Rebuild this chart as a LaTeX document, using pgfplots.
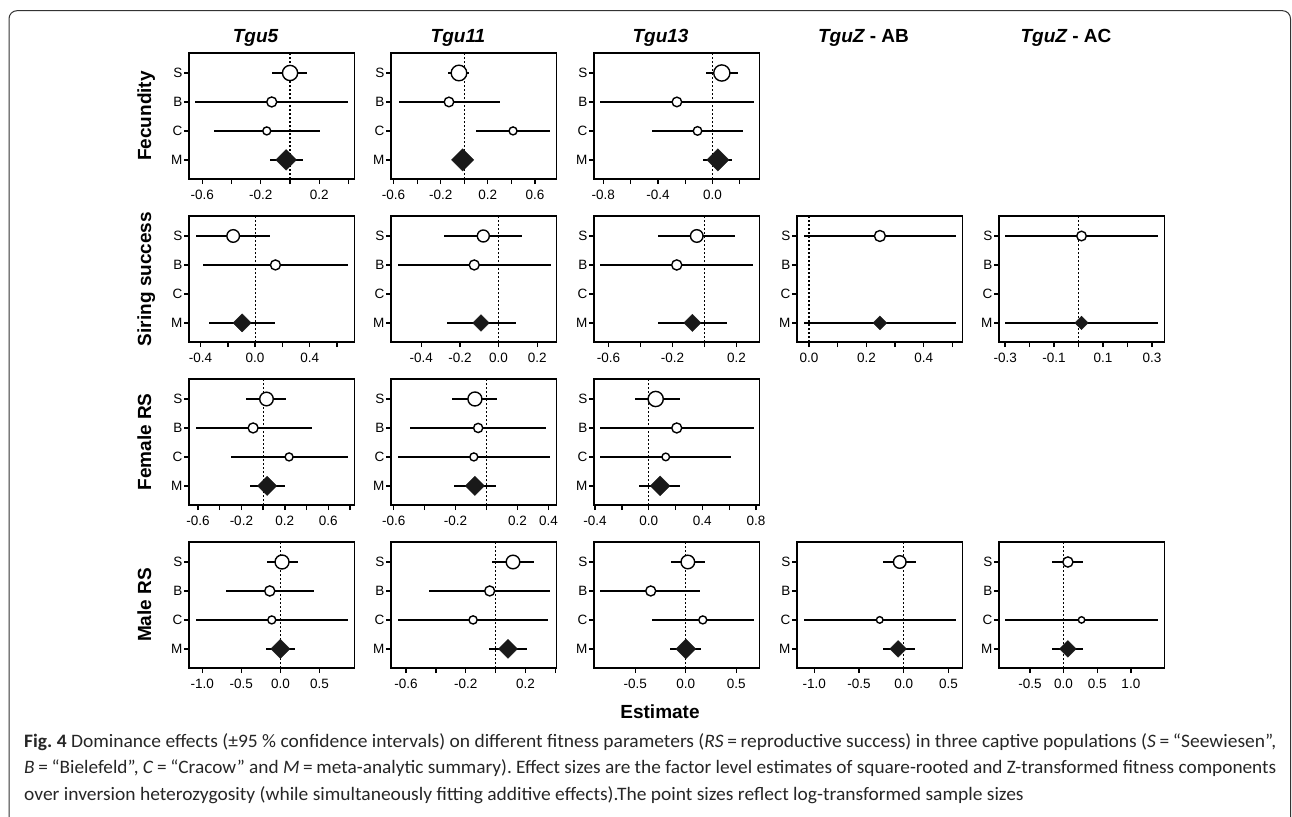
\documentclass[border=0pt]{standalone}
\usepackage{fontspec}
\setmainfont{Liberation Sans}
\newfontfamily\capfont[FakeStretch=0.88]{Carlito}
\usepackage{graphicx}
\usepackage{pgfplots}
\pgfplotsset{compat=1.18}
\usepackage{pgfplotstable}

% ---- data: y (4=S,3=B,2=C,1=M), estimate, lower CI, upper CI, marker radius (pt)
\pgfplotstableread{
y x lo hi r
4 0.000 -0.125 0.118 7.6
3 -0.125 -0.648 0.393 5.0
2 -0.159 -0.518 0.202 4.0
1 -0.027 -0.136 0.086 7.3
}\fecA
\pgfplotstableread{
y x lo hi r
4 -0.045 -0.140 0.040 7.8
3 -0.130 -0.558 0.300 4.8
2 0.414 0.099 0.730 4.0
1 -0.014 -0.080 0.050 7.9
}\fecB
\pgfplotstableread{
y x lo hi r
4 0.068 -0.046 0.190 8.1
3 -0.261 -0.822 0.300 4.8
2 -0.110 -0.444 0.222 4.3
1 0.039 -0.071 0.146 7.9
}\fecC
\pgfplotstableread{
y x lo hi r
4 -0.161 -0.437 0.112 6.3
3 0.149 -0.385 0.680 5.0
1 -0.095 -0.339 0.146 6.4
}\sirA
\pgfplotstableread{
y x lo hi r
4 -0.079 -0.283 0.121 6.0
3 -0.126 -0.522 0.269 5.0
1 -0.091 -0.269 0.088 5.9
}\sirB
\pgfplotstableread{
y x lo hi r
4 -0.048 -0.288 0.192 6.3
3 -0.173 -0.652 0.306 5.1
1 -0.075 -0.288 0.140 6.1
}\sirC
\pgfplotstableread{
y x lo hi r
4 0.247 -0.019 0.513 5.5
1 0.247 -0.019 0.513 4.9
}\sirD
\pgfplotstableread{
y x lo hi r
4 0.012 -0.299 0.325 4.8
1 0.012 -0.299 0.325 4.7
}\sirE
\pgfplotstableread{
y x lo hi r
4 0.031 -0.156 0.214 6.8
3 -0.092 -0.621 0.450 5.0
2 0.239 -0.300 0.777 4.0
1 0.037 -0.125 0.205 6.8
}\femA
\pgfplotstableread{
y x lo hi r
4 -0.075 -0.222 0.069 7.0
3 -0.054 -0.495 0.387 4.6
2 -0.082 -0.574 0.413 4.0
1 -0.075 -0.209 0.058 6.8
}\femB
\pgfplotstableread{
y x lo hi r
4 0.052 -0.102 0.234 7.6
3 0.209 -0.363 0.782 5.0
2 0.127 -0.363 0.615 3.8
1 0.085 -0.070 0.234 7.0
}\femC
\pgfplotstableread{
y x lo hi r
4 0.021 -0.170 0.221 7.0
3 -0.136 -0.702 0.426 5.1
2 -0.110 -1.085 0.864 4.0
1 0.000 -0.179 0.183 6.8
}\malA
\pgfplotstableread{
y x lo hi r
4 0.116 -0.022 0.256 6.8
3 -0.040 -0.444 0.364 5.0
2 -0.151 -0.656 0.349 4.1
1 0.082 -0.044 0.209 6.7
}\malB
\pgfplotstableread{
y x lo hi r
4 0.020 -0.149 0.191 6.8
3 -0.347 -0.848 0.145 5.0
2 0.168 -0.330 0.670 4.0
1 0.000 -0.155 0.152 7.0
}\malC
\pgfplotstableread{
y x lo hi r
4 -0.045 -0.235 0.142 6.3
2 -0.269 -1.119 0.586 3.3
1 -0.063 -0.235 0.130 5.9
}\malD
\pgfplotstableread{
y x lo hi r
4 0.064 -0.168 0.287 5.1
2 0.267 -0.866 1.406 3.2
1 0.064 -0.168 0.287 5.9
}\malE

\newcommand\tickfont{\fontsize{13.5}{14}\selectfont}
\newcommand\bigfont{\fontsize{19}{19}\selectfont\bfseries}
\newcommand\capsize{\fontsize{19}{19}\selectfont}

\pgfplotsset{
  forest/.style={
    scale only axis, width=165.5pt, height=126pt, anchor=north west,
    ymin=0.34, ymax=4.69, ytick={1,2,3,4}, yticklabels={M,C,B,S},
    axis line style={line width=1.8pt, black},
    tick style={line width=1.3pt, black},
    tick align=outside, major tick length=5pt,
    xtick pos=left, ytick pos=left,
    xticklabel style={font=\tickfont, anchor=base, yshift=-15pt},
    yticklabel style={font=\tickfont, anchor=east, inner sep=1.5pt},
  },
  dotmarks/.style n args={2}{scatter, only marks,
    point meta=y, point meta min=0, point meta max=5,
    scatter/use mapped color={draw=#1, fill=#2},
    visualization depends on={\thisrow{r} \as \rad},
    scatter/@pre marker code/.append style={/tikz/mark size=\rad}},
}

\newcommand\panel[7]{%
\begin{axis}[forest, at={(#1pt,-#2pt)}, xmin=#3, xmax=#4, xtick={#5}, xticklabels={#6}]
  \addplot[line width=1.2pt, dash pattern=on 1.6pt off 2.4pt, black] coordinates {(0,0.34) (0,4.69)};
  \addplot[draw=none, mark=none,
    error bars/.cd, x dir=both, x explicit, error mark=none,
    error bar style={line width=1.4pt, draw=black, solid}]
    table[x=x, y=y, x error plus expr=\thisrow{hi}-\thisrow{x}, x error minus expr=\thisrow{x}-\thisrow{lo}] {#7};
  \addplot[mark=*, mark options={line width=1.4pt},
    dotmarks={black}{white},
    restrict y to domain=1.5:5] table[x=x, y=y] {#7};
  \addplot[mark=square*, mark options={rotate=45, line width=0.4pt},
    dotmarks={black!90}{black!90},
    restrict y to domain=0:1.5] table[x=x, y=y] {#7};
\end{axis}}

\newcommand\capA{\textbf{Fig.~4} Dominance effects (±95~\% confidence intervals) on different fitness parameters (\textit{RS}\,=\,reproductive success) in three captive populations (\textit{S}\,=\,“Seewiesen”,}
\newcommand\capB{\textit{B}\,=\,“Bielefeld”, \textit{C}\,=\,“Cracow” and \textit{M}\,=\,meta-analytic summary). Effect sizes are the factor level estimates of square-rooted and Z-transformed fitness components}
\newcommand\capC{over inversion heterozygosity (while simultaneously fitting additive effects).The point sizes reflect log-transformed sample sizes}
\newlength\capw
\frenchspacing
\AtBeginDocument{%
  \settowidth\capw{\capfont\capsize\capA}%
  \pgfmathsetmacro\capsc{1252pt/\capw}%
}

\begin{document}
\begin{tikzpicture}
\useasboundingbox (0pt,0pt) rectangle (1292pt,-816pt);
\draw[rounded corners=8pt, line width=1pt, black!80] (9pt,-10.7pt) rectangle (1290.5pt,-840pt);

% column titles
\node[anchor=base] at (255.5pt,-43pt) {\bigfont\itshape Tgu5};
\node[anchor=base] at (458pt,-43pt) {\bigfont\itshape Tgu11};
\node[anchor=base] at (660.5pt,-43pt) {\bigfont\itshape Tgu13};
\node[anchor=base] at (863.5pt,-43pt) {\bigfont{\itshape TguZ} - AB};
\node[anchor=base] at (1066pt,-43pt) {\bigfont{\itshape TguZ} - AC};

% row labels
\node[anchor=base, rotate=90] at (151pt,-116pt) {\bigfont Fecundity};
\node[anchor=base, rotate=90] at (151pt,-279pt) {\bigfont Siring success};
\node[anchor=base, rotate=90] at (151pt,-442pt) {\bigfont Female RS};
\node[anchor=base, rotate=90] at (151pt,-605pt) {\bigfont Male RS};

% row 1: Fecundity
\panel{189}{53}{-0.69}{0.44}{-0.6,-0.4,-0.2,0,0.2,0.4}{-0.6,,-0.2,,0.2,}{\fecA}
\panel{391}{53}{-0.622}{0.783}{-0.6,-0.4,-0.2,0,0.2,0.4,0.6}{-0.6,,-0.2,,0.2,,0.6}{\fecB}
\panel{594}{53}{-0.868}{0.344}{-0.8,-0.6,-0.4,-0.2,0,0.2}{-0.8,,-0.4,,0.0,}{\fecC}
% row 2: Siring success
\panel{189}{216}{-0.485}{0.729}{-0.4,-0.2,0,0.2,0.4,0.6}{-0.4,,0.0,,0.4,}{\sirA}
\panel{391}{216}{-0.557}{0.30}{-0.4,-0.2,0,0.2}{-0.4,-0.2,0.0,0.2}{\sirB}
\panel{594}{216}{-0.69}{0.344}{-0.6,-0.4,-0.2,0,0.2}{-0.6,,-0.2,,0.2}{\sirC}
\panel{797}{216}{-0.042}{0.535}{0,0.1,0.2,0.3,0.4,0.5}{0.0,,0.2,,0.4,}{\sirD}
\panel{999}{216}{-0.325}{0.351}{-0.3,-0.2,-0.1,0,0.1,0.2,0.3}{-0.3,,-0.1,,0.1,,0.3}{\sirE}
% row 3: Female RS
\panel{189}{379}{-0.682}{0.841}{-0.6,-0.4,-0.2,0,0.2,0.4,0.6,0.8}{-0.6,,-0.2,,0.2,,0.6,}{\femA}
\panel{391}{379}{-0.617}{0.452}{-0.6,-0.4,-0.2,0,0.2,0.4}{-0.6,,-0.2,,0.2,0.4}{\femB}
\panel{594}{379}{-0.408}{0.826}{-0.4,-0.2,0,0.2,0.4,0.6,0.8}{-0.4,,0.0,,0.4,,0.8}{\femC}
% row 4: Male RS
\panel{189}{542}{-1.17}{0.949}{-1,-0.5,0,0.5}{-1.0,-0.5,0.0,0.5}{\malA}
\panel{391}{542}{-0.70}{0.407}{-0.6,-0.4,-0.2,0,0.2,0.4}{-0.6,,-0.2,,0.2,}{\malB}
\panel{594}{542}{-0.908}{0.729}{-0.5,0,0.5}{-0.5,0.0,0.5}{\malC}
\panel{797}{542}{-1.194}{0.657}{-1,-0.5,0,0.5}{-1.0,-0.5,0.0,0.5}{\malD}
\panel{999}{542}{-0.96}{1.5}{-0.5,0,0.5,1}{-0.5,0.0,0.5,1.0}{\malE}

\node[anchor=base] at (660pt,-718pt) {\bigfont Estimate};

% caption
\node[anchor=base west, inner sep=0pt, text=black!85] at (24pt,-747pt) {\scalebox{\capsc}[1]{\capfont\capsize\capA}};
\node[anchor=base west, inner sep=0pt, text=black!85] at (24pt,-773.5pt) {\resizebox{1252pt}{\height}{\capfont\capsize\capB}};
\node[anchor=base west, inner sep=0pt, text=black!85] at (24pt,-800pt) {\scalebox{\capsc}[1]{\capfont\capsize\capC}};
\end{tikzpicture}
\end{document}
